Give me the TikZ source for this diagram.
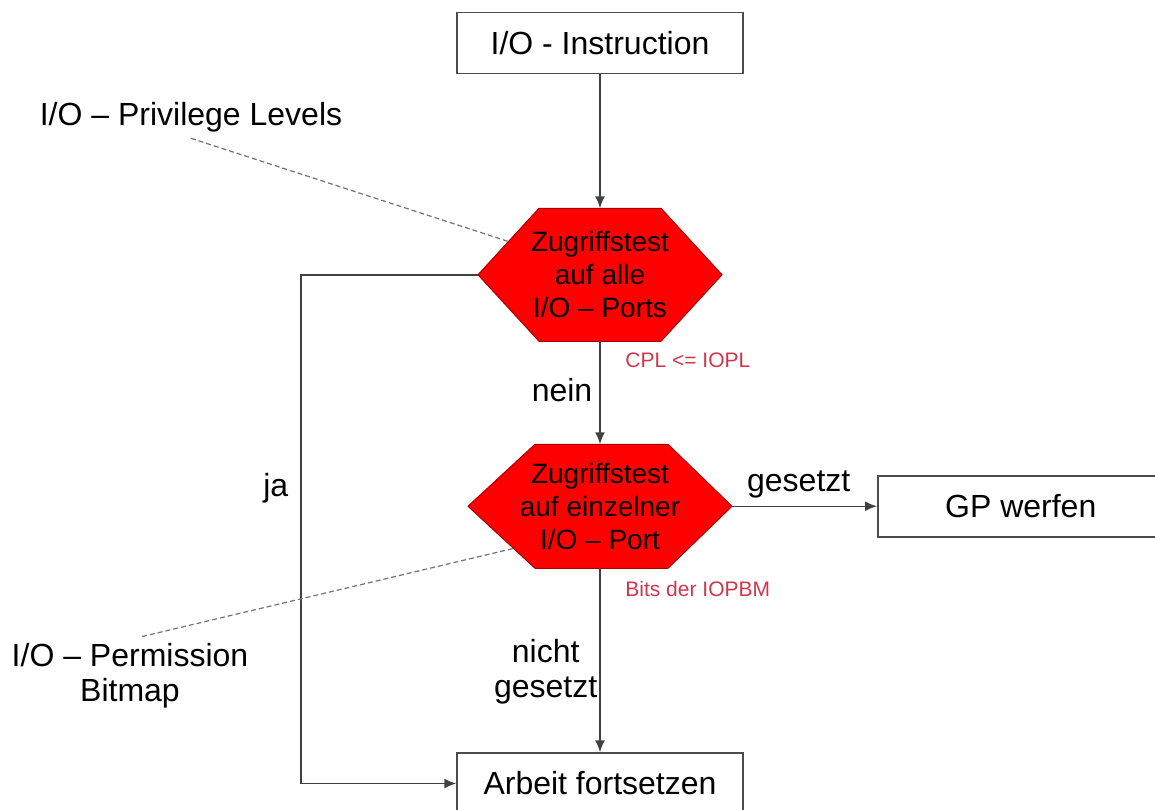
\documentclass[tikz,border=0pt]{standalone}
\usepackage{fontspec}
\setmainfont{Liberation Sans}
\usetikzlibrary{positioning,calc,arrows.meta,backgrounds}
\definecolor{hexred}{RGB}{255,0,0}
\definecolor{hexedge}{RGB}{170,0,0}
\definecolor{notered}{RGB}{205,55,75}
\tikzset{
 b/.style
  = {rectangle, draw=black!70, line width=0.75pt, minimum width=143pt,
     minimum height=30.5pt, text centered, font=\fontsize{16}{19}\selectfont},
 hx/.style
  = {rectangle, inner sep=0pt, outer sep=0pt, align=center,
     font=\fontsize{14}{16.5}\selectfont},
 t/.style
  = {font=\fontsize{16}{17.5}\selectfont, align=center},
 rt/.style
  = {font=\fontsize{10.5}{12}\selectfont, text=notered, inner sep=0pt, anchor=north west},
 l/.style
  = {draw=black!75, line width=0.75pt, -{Latex[length=6pt,width=5pt]}},
 hexfill/.style
  = {fill=hexred, draw=hexedge, line width=0.5pt},
 dl/.style
  = {draw=black!55, line width=0.6pt, dash pattern=on 2.5pt off 1.5pt},
}

\begin{document}
\begin{tikzpicture}[x=0.5pt, y=-0.5pt]
    \useasboundingbox (0,0) rectangle (1155,809);
    \clip (0,0) rectangle (1155,809);

    \node [b] (instr) at (600,43) {I/O - Instruction};
    \node [hx, minimum width=122pt, minimum height=66.5pt, below=67pt of instr] (hexA) {Zugriffstest\\auf alle\\I/O – Ports};
    \node [hx, minimum width=132pt, minimum height=62pt, below=51.5pt of hexA] (hexB) {Zugriffstest\\auf einzelner\\I/O – Port};
    \node [b, below=92pt of hexB] (arbeit) {Arbeit fortsetzen};
    \node [b, right=72.5pt of hexB] (gp) {GP werfen};

    \begin{scope}[on background layer]
      \filldraw [hexfill] (hexA.west) -- ($(hexA.north west)+(61,0)$) -- ($(hexA.north east)+(-61,0)$)
        -- (hexA.east) -- ($(hexA.south east)+(-61,0)$) -- ($(hexA.south west)+(61,0)$) -- cycle;
      \filldraw [hexfill] (hexB.west) -- ($(hexB.north west)+(67,0)$) -- ($(hexB.north east)+(-64,0)$)
        -- (hexB.east) -- ($(hexB.south east)+(-64,0)$) -- ($(hexB.south west)+(67,0)$) -- cycle;
    \end{scope}

    \node [t, inner sep=3pt] (privlev) at (191,117) {I/O – Privilege Levels};
    \node [t] (permbit) at (130,676) {I/O – Permission\\Bitmap};
    \node [rt, below right=5.5pt and 12.5pt of hexA.south] (cpl) {CPL <= IOPL};
    \node [rt, below right=6.5pt and 12.5pt of hexB.south] (bits) {Bits der IOPBM};

    \path [l] (instr) -- (hexA);
    \path [l] (hexA) -- (hexB) node[t, pos=0.47, left, inner sep=3.5pt] {nein};
    \path [l] (hexB) -- (gp) node[t, pos=0.46, above, inner sep=3.5pt] {gesetzt};
    \path [l] (hexB) -- (arbeit) node[t, pos=0.56, left, inner sep=1pt] {nicht\\gesetzt};
    \path [l] (hexA.west) -- ++(-177,0) |- node[t, pos=0.21, left, inner sep=6pt] {ja} (arbeit.west);

    \draw [dl] (privlev.south) -- ($(hexA.west)!0.5!(hexA.north west)+(30.5,0)$);
    \draw [dl] (permbit.73) -- ($(hexB.west)!0.68!(hexB.south west)+(45.5,0)$);
  \end{tikzpicture}
\end{document}
